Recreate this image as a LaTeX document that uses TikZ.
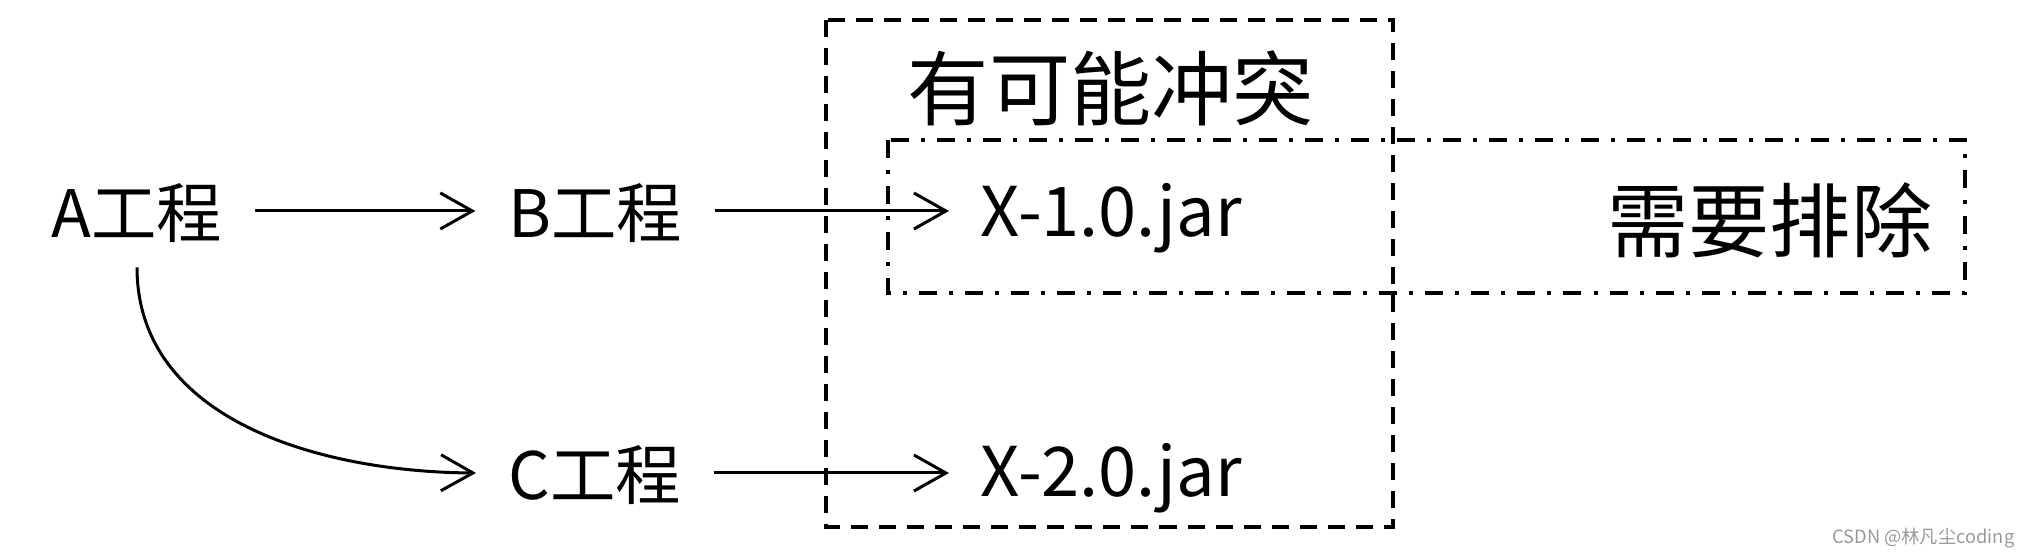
\documentclass[tikz,border=0pt]{standalone}
\usepackage{fontspec}
\setmainfont{Noto Sans CJK SC}
\usetikzlibrary{arrows.meta}
\begin{document}
\begin{tikzpicture}[x=0.01cm,y=-0.01cm,
  lbl/.style={font=\fontsize{18.6pt}{20pt}\selectfont, inner xsep=3.2mm, inner ysep=2.4mm, text=black},
  jar/.style={font=\fontsize{19.5pt}{21pt}\selectfont, inner xsep=3.1mm, inner ysep=2.4mm, text=black},
  big/.style={font=\fontsize{23.1pt}{26pt}\selectfont, inner sep=0pt, text=black},
  arr/.style={line width=0.3mm, -{Straight Barb[length=3.2mm,width=3.6mm]}},
  conflictbox/.style={line width=0.35mm, dash pattern=on 1.7mm off 1.1mm},
  excludebox/.style={line width=0.35mm, dash pattern=on 1.8mm off 1.2mm on 0.4mm off 1.2mm},
  wmark/.style={font=\fontsize{5.2pt}{6pt}\selectfont, text=black!40, inner sep=0pt}
]
\useasboundingbox (0,0) rectangle (2032,558);
\node[lbl] (A) at (137,213) {A工程};
\node[lbl] (B) at (595,213) {B工程};
\node[lbl] (C) at (595,475) {C工程};
\node[jar, anchor=west] (X1) at (949,218) {X-1.0.jar};
\node[jar, anchor=west] (X2) at (949,478) {X-2.0.jar};
\node[big] (conf) at (1111,88) {有可能冲突};
\node[big, anchor=east] (excl) at (1933,220) {需要排除};
\draw[conflictbox] (826,20) rectangle (1393,527);
\draw[excludebox] (888,140) rectangle (1965,293);
\draw[arr] ([yshift=0.2mm]A.east) -- ([yshift=0.2mm]B.west);
\draw[arr] ([yshift=0.2mm]B.east) -- ([yshift=0.2mm]B.east -| X1.west);
\draw[arr] ([yshift=0.2mm]C.east) -- ([yshift=0.2mm]C.east -| X2.west);
\draw[arr] (A.south) .. controls (137,420) and (320,472) .. ([yshift=0.2mm]C.west);
\node[wmark, anchor=east] (wm) at (2015,538) {CSDN @林凡尘coding};
\end{tikzpicture}
\end{document}
